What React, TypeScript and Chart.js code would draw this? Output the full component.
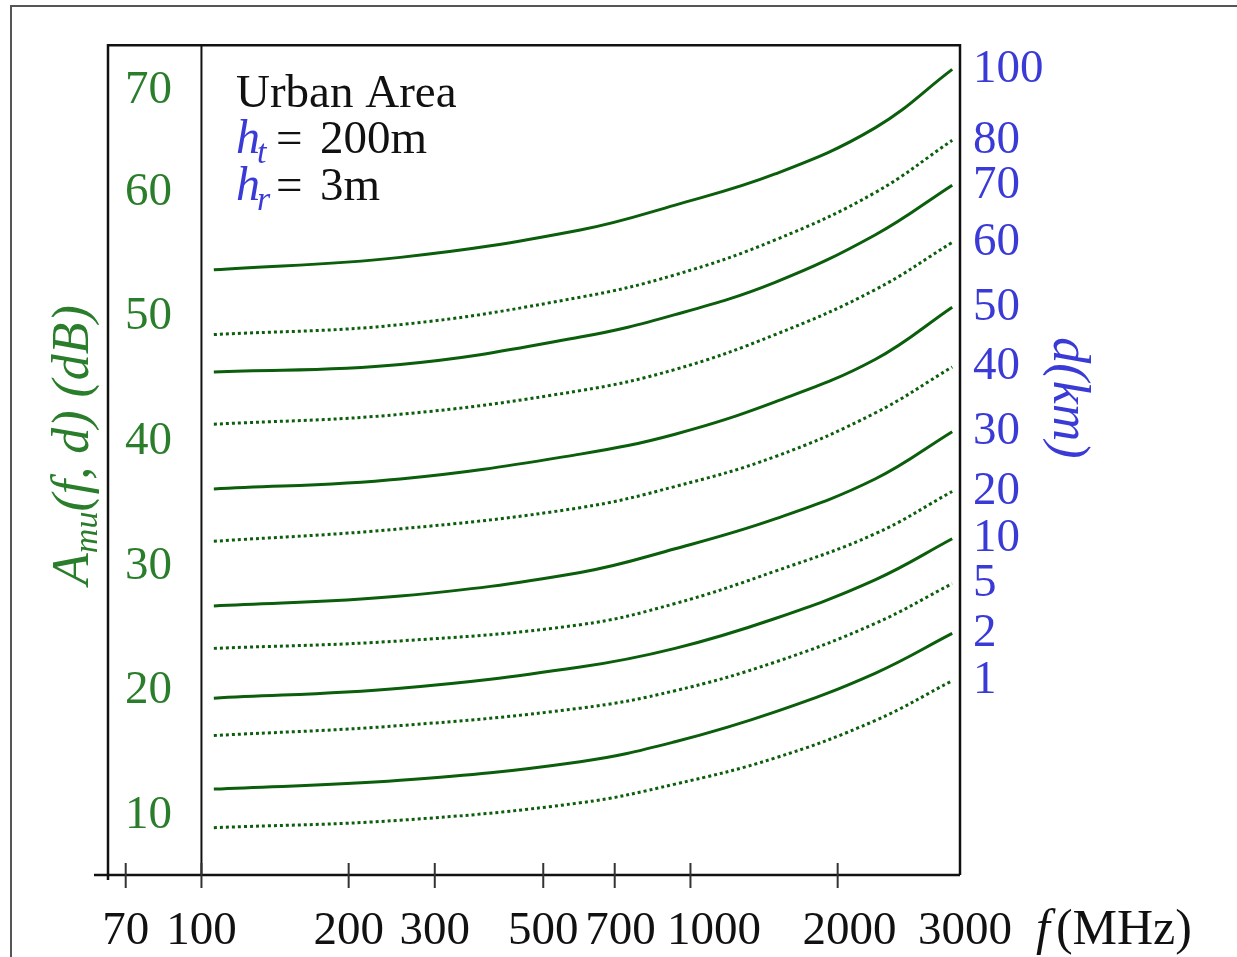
import React, { useEffect, useRef } from 'react';
import { Chart, registerables } from 'chart.js';

Chart.register(...registerables);

// ---- data ----
const freqMHz = [106, 255, 595, 930, 1490, 2385, 3430];
const distancesKm = ['100', '80', '70', '60', '50', '40', '30', '20', '10', '5', '2', '1'];
const lossD100 = [53.8, 54.8, 57.0, 59.0, 61.5, 65.2, 69.9];
const lossD80 = [48.6, 49.4, 51.6, 53.4, 56.2, 60.0, 64.2];
const lossD70 = [45.6, 46.2, 48.4, 50.2, 52.8, 56.6, 60.6];
const lossD60 = [41.4, 42.2, 44.1, 45.8, 48.6, 52.2, 56.0];
const lossD50 = [36.2, 37.0, 39.0, 40.6, 43.2, 46.6, 50.8];
const lossD40 = [32.0, 33.0, 34.7, 36.4, 38.8, 42.3, 46.0];
const lossD30 = [26.8, 27.6, 29.5, 31.4, 33.8, 37.0, 40.8];
const lossD20 = [23.4, 24.0, 25.3, 27.0, 29.6, 32.6, 36.0];
const lossD10 = [19.4, 20.2, 21.9, 23.4, 25.8, 28.9, 32.2];
const lossD5 = [16.4, 17.2, 18.6, 20.0, 22.3, 25.4, 28.6];
const lossD2 = [12.1, 12.8, 14.3, 15.9, 18.3, 21.4, 24.6];
const lossD1 = [9.0, 9.6, 11.0, 12.5, 14.6, 17.6, 20.8];
const seriesList = [lossD100, lossD80, lossD70, lossD60, lossD50, lossD40, lossD30, lossD20, lossD10, lossD5, lossD2, lossD1];

const xTickValues = [70, 100, 200, 300, 500, 700, 1000, 2000, 3000];
const xTickLabels = ['70', '100', '200', '300', '500', '700', '1000', '2000', '3000'];
// the reference sets some frequency labels a little to the right of their tick
const xLabelShiftSpaces = [0, 0, 0, 0, 0, 1, 4, 2, 7];
const xTickMarks = [70, 100, 200, 300, 500, 700, 1000, 2000];
// the reference places its "70" label a little below the 70 dB level
const yTickValues = [10, 20, 30, 40, 50, 60, 68.2];
const yTickLabels = ['10', '20', '30', '40', '50', '60', '70'];
const markerFreq = 100;

const X_MIN = 64.4;
const X_MAX = 3558;
const Y_MIN = 5.2;
const Y_MAX = 71.84;

const GREEN_LINE = '#0b5e0b';
const GREEN_TEXT = '#2a7d2a';
const BLUE_TEXT = '#3a3ad6';
const FONT = "'Liberation Serif', 'Times New Roman', serif";

const decorPlugin = {
  id: 'decor',
  afterDraw(chart: any) {
    const ctx = chart.ctx as CanvasRenderingContext2D;
    const { left, right, top, bottom } = chart.chartArea;
    const xs = chart.scales.x;
    ctx.save();
    // outer frame
    ctx.strokeStyle = '#555';
    ctx.lineWidth = 2;
    ctx.strokeRect(11, 6, 1400, 1200);
    // plot box
    ctx.strokeStyle = '#111';
    ctx.lineWidth = 2.5;
    ctx.beginPath();
    ctx.moveTo(left, bottom + 5);
    ctx.lineTo(left, top);
    ctx.lineTo(right, top);
    ctx.lineTo(right, bottom);
    ctx.moveTo(left - 14, bottom);
    ctx.lineTo(right, bottom);
    ctx.stroke();
    // tick marks crossing the axis
    ctx.lineWidth = 2;
    ctx.strokeStyle = '#333';
    xTickMarks.forEach((v) => {
      const px = xs.getPixelForValue(v);
      ctx.beginPath();
      ctx.moveTo(px, bottom - 12);
      ctx.lineTo(px, bottom + 13);
      ctx.stroke();
    });

    // y-axis title: A_mu(f, d) (dB)
    ctx.save();
    ctx.translate(88, 445);
    ctx.rotate(-Math.PI / 2);
    ctx.fillStyle = GREEN_TEXT;
    ctx.textBaseline = 'alphabetic';
    const big = `italic 52px ${FONT}`;
    const small = `italic 34px ${FONT}`;
    ctx.font = big;
    const wA = ctx.measureText('A').width;
    const wRest = ctx.measureText('(f, d) (dB)').width;
    ctx.font = small;
    const wSub = ctx.measureText('mu').width;
    let cx = -(wA + wSub + wRest) / 2;
    ctx.font = big;
    ctx.fillText('A', cx, 0);
    cx += wA;
    ctx.font = small;
    ctx.fillText('mu', cx, 9);
    cx += wSub;
    ctx.font = big;
    ctx.fillText('(f, d) (dB)', cx, 0);
    ctx.restore();

    // right title d(km)
    ctx.save();
    ctx.translate(1054, 398);
    ctx.rotate(Math.PI / 2);
    ctx.fillStyle = BLUE_TEXT;
    ctx.font = `italic 52px ${FONT}`;
    ctx.textAlign = 'center';
    ctx.fillText('d(km)', 0, 0);
    ctx.restore();

    // annotation
    ctx.textAlign = 'left';
    ctx.fillStyle = '#111';
    ctx.font = `47px ${FONT}`;
    ctx.fillText('Urban Area', 236, 107);
    const hLine = (sub: string, value: string, y: number) => {
      ctx.fillStyle = BLUE_TEXT;
      ctx.font = `italic 48px ${FONT}`;
      ctx.fillText('h', 236, y);
      const wh = ctx.measureText('h').width;
      ctx.font = `italic 34px ${FONT}`;
      ctx.fillText(sub, 236 + wh - 3, y + 10);
      ctx.fillStyle = '#111';
      ctx.font = `47px ${FONT}`;
      ctx.fillText('=', 276, y);
      ctx.fillText(value, 320, y);
    };
    hLine('t', '200m', 153);
    hLine('r', '3m', 200);

    // x-axis title f(MHz)
    ctx.fillStyle = '#111';
    ctx.font = `italic 50px ${FONT}`;
    ctx.fillText('f', 1036, 944);
    const wf = ctx.measureText('f').width;
    ctx.font = `50px ${FONT}`;
    ctx.fillText('(MHz)', 1036 + wf + 6, 944);
    ctx.restore();
  },
};

export default function App() {
  const canvasRef = useRef<HTMLCanvasElement | null>(null);

  useEffect(() => {
    if (!canvasRef.current) return;
    const datasets: any[] = seriesList.map((vals, i) => ({
      label: distancesKm[i] + ' km',
      data: vals.map((v, j) => ({ x: freqMHz[j], y: v })),
      borderColor: GREEN_LINE,
      borderWidth: 3,
      borderDash: i % 2 === 0 ? [] : [3, 3],
      pointRadius: 0,
      tension: 0.4,
      fill: false,
    }));
    datasets.push({
      label: 'marker',
      data: [
        { x: markerFreq, y: Y_MIN },
        { x: markerFreq, y: Y_MAX },
      ],
      borderColor: '#111',
      borderWidth: 2,
      pointRadius: 0,
      tension: 0,
      fill: false,
    });

    const endTicks = seriesList.map((vals, i) => ({ value: vals[vals.length - 1], label: distancesKm[i] }));

    const chart = new Chart(canvasRef.current, {
      type: 'line',
      data: { datasets },
      plugins: [decorPlugin],
      options: {
        animation: false,
        responsive: false,
        devicePixelRatio: 1,
        layout: { padding: { top: 42, left: 0, right: 0, bottom: 0 } },
        plugins: { legend: { display: false }, tooltip: { enabled: false } },
        scales: {
          x: {
            type: 'logarithmic',
            position: 'bottom',
            min: X_MIN,
            max: X_MAX,
            afterBuildTicks: (s: any) => {
              s.ticks = xTickValues.map((v) => ({ value: v }));
            },
            afterFit: (s: any) => {
              s.height = 82;
            },
            grid: { display: false },
            border: { display: false },
            ticks: {
              autoSkip: false,
              maxRotation: 0,
              padding: 20,
              color: '#111',
              font: { family: FONT, size: 47 },
              callback: (_v: any, i: number) => ' '.repeat(xLabelShiftSpaces[i]) + xTickLabels[i],
            },
          },
          y: {
            type: 'linear',
            position: 'left',
            min: Y_MIN,
            max: Y_MAX,
            afterBuildTicks: (s: any) => {
              s.ticks = yTickValues.map((v) => ({ value: v }));
            },
            afterFit: (s: any) => {
              s.width = 108;
            },
            grid: { display: false },
            border: { display: false },
            ticks: {
              mirror: true,
              crossAlign: 'far',
              padding: 17,
              color: GREEN_TEXT,
              font: { family: FONT, size: 47 },
              callback: (_v: any, i: number) => yTickLabels[i],
            },
          },
          y2: {
            type: 'linear',
            position: 'right',
            min: Y_MIN,
            max: Y_MAX,
            afterBuildTicks: (s: any) => {
              s.ticks = endTicks.map((t) => ({ value: t.value }));
            },
            afterFit: (s: any) => {
              s.width = 277;
            },
            grid: { display: false },
            border: { display: false },
            ticks: {
              padding: 5,
              color: BLUE_TEXT,
              font: { family: FONT, size: 47 },
              callback: (_v: any, i: number) => endTicks[i].label,
            },
          },
        },
      } as any,
    });
    return () => chart.destroy();
  }, []);

  return (
    <div style={{ position: 'fixed', left: 0, top: 0, width: 1237, height: 957, background: '#fff' }}>
      <canvas ref={canvasRef} width={1237} height={957} style={{ display: 'block' }} />
    </div>
  );
}
